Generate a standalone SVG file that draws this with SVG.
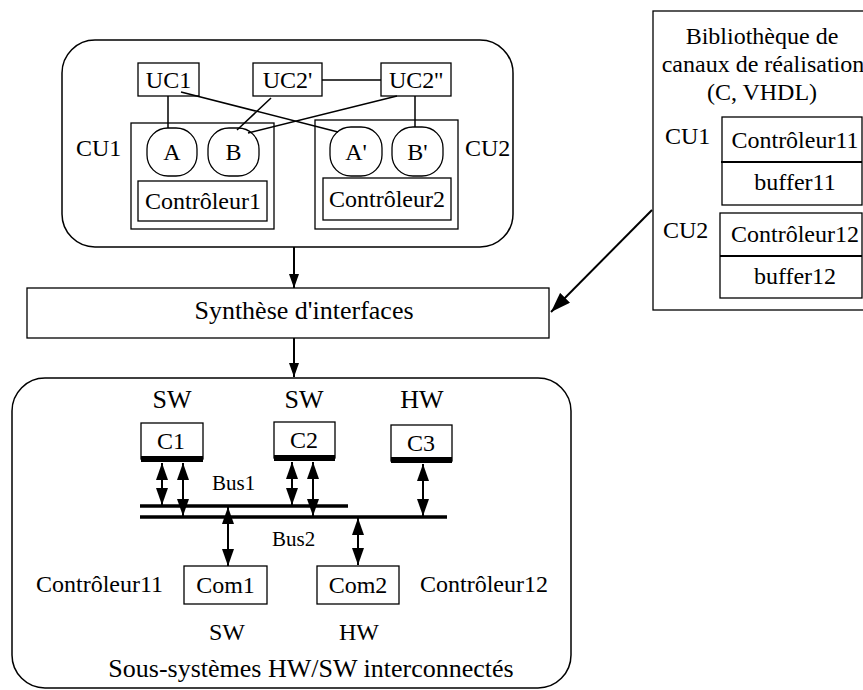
<svg xmlns="http://www.w3.org/2000/svg" width="863" height="690" viewBox="0 0 863 690">
<style>
text{font-family:"Liberation Serif","Times New Roman",serif;font-size:24px;fill:#000}
.m{text-anchor:middle}
.box{fill:#fff;stroke:#000;stroke-width:1.3}
.rr{fill:none;stroke:#000;stroke-width:1.5}
.ln{stroke:#000;stroke-width:1.5;fill:none}
.ar{stroke:#000;stroke-width:2;fill:none}
.bus{stroke:#000;stroke-width:3.5}
</style>
<defs>
<marker id="ah" viewBox="0 0 17 12" refX="17" refY="6" markerWidth="17" markerHeight="12" markerUnits="userSpaceOnUse" orient="auto-start-reverse">
<path d="M0,0 L17,6 L0,12 z" fill="#000"/>
</marker>
<marker id="ah2" viewBox="0 0 14 10" refX="14" refY="5" markerWidth="14" markerHeight="10" markerUnits="userSpaceOnUse" orient="auto">
<path d="M0,0 L14,5 L0,10 z" fill="#000"/>
</marker>
<marker id="ah3" viewBox="0 0 20 14" refX="20" refY="7" markerWidth="20" markerHeight="14" markerUnits="userSpaceOnUse" orient="auto">
<path d="M0,0 L20,7 L0,14 z" fill="#000"/>
</marker>
</defs>

<g id="top-system">
<rect class="rr" x="62" y="40" width="451" height="207" rx="33" ry="33"/>
</g>
<g id="UC1"><rect class="box" x="138" y="63" width="61" height="33"/><text class="m" x="168.5" y="88">UC1</text></g>
<g id="UC2p"><rect class="box" x="253" y="63" width="69" height="33"/><text class="m" x="287.5" y="88">UC2'</text></g>
<g id="UC2pp"><rect class="box" x="381" y="63" width="70" height="33"/><text class="m" x="416" y="88">UC2''</text></g>
<g id="CU1">
<text x="76" y="156">CU1</text>
<rect class="box" x="131" y="123" width="143" height="106"/>
</g>
<g id="CU2">
<text x="465" y="156">CU2</text>
<rect class="box" x="315" y="120" width="143" height="109"/>
</g>
<g id="A"><rect class="box" x="147" y="128" width="50" height="48" rx="21" ry="21"/><text class="m" x="172" y="160">A</text></g>
<g id="B"><rect class="box" x="208" y="128" width="51" height="48" rx="21" ry="21"/><text class="m" x="233.5" y="160">B</text></g>
<g id="Ap"><rect class="box" x="330" y="127" width="52" height="49" rx="21" ry="21"/><text class="m" x="356" y="160">A'</text></g>
<g id="Bp"><rect class="box" x="392" y="127" width="51" height="49" rx="21" ry="21"/><text class="m" x="417.5" y="160">B'</text></g>
<g id="Controleur1"><rect class="box" x="138" y="181" width="129" height="40"/><text class="m" x="203" y="209">Contrôleur1</text></g>
<g id="Controleur2"><rect class="box" x="323" y="178" width="128" height="42"/><text class="m" x="387" y="207">Contrôleur2</text></g>

<g id="library">
<rect class="box" x="653" y="11" width="220" height="299"/>
<text class="m" x="762" y="44">Bibliothèque de</text>
<text class="m" x="763" y="72">canaux de réalisation</text>
<text class="m" x="762" y="100">(C, VHDL)</text>
<text x="665" y="144">CU1</text>
<text x="663" y="238">CU2</text>
</g>
<g id="lib-CU1">
<rect class="box" x="722" y="117" width="140" height="88"/>
<line class="ln" x1="721" y1="162" x2="862" y2="162" style="stroke-width:2"/>
<text class="m" x="795" y="148">Contrôleur11</text>
<text class="m" x="795" y="190">buffer11</text>
</g>
<g id="lib-CU2">
<rect class="box" x="720" y="213" width="142" height="85"/>
<line class="ln" x1="720" y1="256" x2="862" y2="256" style="stroke-width:2"/>
<text class="m" x="795" y="242">Contrôleur12</text>
<text class="m" x="795" y="284">buffer12</text>
</g>

<g id="synthese">
<rect class="box" x="27" y="288" width="522" height="50"/>
<text class="m" x="304" y="319" style="font-size:26px">Synthèse d'interfaces</text>
</g>

<g id="bottom-system">
<rect class="rr" x="12" y="378" width="559" height="310" rx="33" ry="33"/>
<text class="m" x="311" y="677" style="font-size:26px">Sous-systèmes HW/SW interconnectés</text>
</g>
<g id="C1">
<text class="m" x="172" y="408" style="font-size:26px">SW</text>
<rect class="box" x="141" y="423" width="62" height="36"/>
<rect x="141" y="456" width="62" height="6" fill="#000"/>
<text class="m" x="171" y="449">C1</text>
</g>
<g id="C2">
<text class="m" x="304" y="408" style="font-size:26px">SW</text>
<rect class="box" x="274" y="422" width="61" height="36"/>
<rect x="274" y="455" width="61" height="6" fill="#000"/>
<text class="m" x="304" y="448">C2</text>
</g>
<g id="C3">
<text class="m" x="422" y="408" style="font-size:26px">HW</text>
<rect class="box" x="391" y="425" width="61" height="36"/>
<rect x="391" y="457" width="61" height="6" fill="#000"/>
<text class="m" x="421" y="451">C3</text>
</g>
<g id="Bus1">
<line class="bus" x1="140" y1="506" x2="348" y2="506"/>
<text x="212" y="490" style="font-size:21px">Bus1</text>
</g>
<g id="Bus2">
<line class="bus" x1="140" y1="517" x2="447" y2="517"/>
<text x="272" y="546" style="font-size:21px">Bus2</text>
</g>
<g id="Com1">
<text x="36" y="592">Contrôleur11</text>
<rect class="box" x="184" y="566" width="83" height="38"/>
<text class="m" x="225.5" y="593">Com1</text>
<text class="m" x="227" y="640">SW</text>
</g>
<g id="Com2">
<rect class="box" x="317" y="566" width="82" height="38"/>
<text class="m" x="358" y="593">Com2</text>
<text x="420" y="592">Contrôleur12</text>
<text class="m" x="359" y="640">HW</text>
</g>

<g id="connectors">
<line class="ln" x1="168" y1="96" x2="168" y2="128"/>
<line class="ln" x1="181" y1="92" x2="338" y2="132"/>
<line class="ln" x1="271" y1="98" x2="237" y2="130"/>
<line class="ln" x1="397" y1="96" x2="248" y2="133"/>
<line class="ln" x1="415" y1="96" x2="415" y2="127"/>
<line class="ln" x1="322" y1="80" x2="381" y2="80"/>
<line class="ar" x1="294" y1="247" x2="294" y2="288" marker-end="url(#ah2)"/>
<line class="ar" x1="294" y1="338" x2="294" y2="377" marker-end="url(#ah2)"/>
<line class="ln" x1="652" y1="210" x2="551" y2="312" marker-end="url(#ah3)" style="stroke-width:2"/>
<line class="ar" x1="162" y1="463" x2="162" y2="505" marker-start="url(#ah)" marker-end="url(#ah)"/>
<line class="ar" x1="183" y1="463" x2="183" y2="516" marker-start="url(#ah)" marker-end="url(#ah)"/>
<line class="ar" x1="292" y1="462" x2="292" y2="505" marker-start="url(#ah)" marker-end="url(#ah)"/>
<line class="ar" x1="313" y1="462" x2="313" y2="516" marker-start="url(#ah)" marker-end="url(#ah)"/>
<line class="ar" x1="423" y1="464" x2="423" y2="516" marker-start="url(#ah)" marker-end="url(#ah)"/>
<line class="ar" x1="228" y1="507" x2="228" y2="566" marker-start="url(#ah)" marker-end="url(#ah)"/>
<line class="ar" x1="358" y1="518" x2="358" y2="565" marker-start="url(#ah)" marker-end="url(#ah)"/>
</g>
</svg>
